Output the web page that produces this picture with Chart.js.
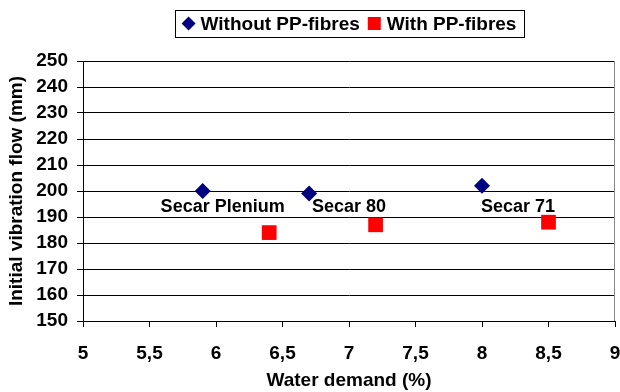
<!DOCTYPE html>
<html>
<head>
<meta charset="utf-8">
<script src="https://cdn.jsdelivr.net/npm/chart.js@4/dist/chart.umd.min.js"></script>
<style>
  html, body { margin: 0; padding: 0; background: #fff; }
  #wrap { width: 620px; height: 392px; }
</style>
</head>
<body>
<div id="wrap"><canvas id="chart"></canvas></div>
<script>
// data
const withoutX = [5.9, 6.7, 8.0];
const withoutY = [200, 199, 202];
const withX = [6.4, 7.2, 8.5];
const withY = [184, 187, 188];

// product names written next to the points (x, y in data units)
const labelTexts = ['Secar Plenium', 'Secar 80', 'Secar 71'];
const labelX = [6.05, 7.0, 8.27];
const labelY = [194, 194, 194];

const FONT = 'Arial, "Liberation Sans", sans-serif';

const toPoints = (xs, ys) => xs.map((x, i) => ({ x: x, y: ys[i] }));

// little legend with a box round it, centred over the plot
const boxLegend = {
  id: 'boxLegend',
  afterDraw(chart) {
    const ctx = chart.ctx;
    const area = chart.chartArea;
    ctx.save();
    ctx.font = 'bold 19px ' + FONT;
    const marker = 14, gapMarker = 5, gapItem = 8;
    const items = chart.data.datasets.map(ds => ({
      text: ds.label, color: ds.backgroundColor, style: ds.pointStyle,
      w: marker + gapMarker + ctx.measureText(ds.label).width
    }));
    const total = items.reduce((s, it) => s + it.w, 0) + gapItem * (items.length - 1) + 14;
    const cx = (area.left + area.right) / 2;
    const top = 10, h = 27, cy = top + h / 2;
    let x = cx - total / 2;
    ctx.strokeStyle = '#000';
    ctx.lineWidth = 1;
    ctx.strokeRect(Math.round(x) + 0.5, top + 0.5, Math.round(total), h);
    x += 7;
    ctx.textBaseline = 'middle';
    items.forEach(it => {
      ctx.fillStyle = it.color;
      ctx.beginPath();
      if (it.style === 'rectRot') {
        const r = 7;
        ctx.moveTo(x + marker / 2, cy - r);
        ctx.lineTo(x + marker / 2 + r, cy);
        ctx.lineTo(x + marker / 2, cy + r);
        ctx.lineTo(x + marker / 2 - r, cy);
        ctx.closePath();
      } else {
        ctx.rect(x, cy - 6.5, 13, 13);
      }
      ctx.fill();
      ctx.fillStyle = '#000';
      ctx.fillText(it.text, x + marker + gapMarker, cy + 1);
      x += it.w + gapItem;
    });
    ctx.restore();
  }
};

// names of the products + right border of the plot
const extras = {
  id: 'extras',
  afterDatasetsDraw(chart) {
    const ctx = chart.ctx;
    const xs = chart.scales.x, ys = chart.scales.y;
    const area = chart.chartArea;
    ctx.save();
    ctx.strokeStyle = '#888';
    ctx.lineWidth = 1;
    ctx.beginPath();
    ctx.moveTo(area.right - 0.5, area.top);
    ctx.lineTo(area.right - 0.5, area.bottom);
    ctx.stroke();
    ctx.font = 'bold 18px ' + FONT;
    ctx.fillStyle = '#000';
    ctx.textAlign = 'center';
    ctx.textBaseline = 'middle';
    labelTexts.forEach((t, i) => {
      ctx.fillText(t, xs.getPixelForValue(labelX[i]), ys.getPixelForValue(labelY[i]));
    });
    ctx.restore();
  }
};

new Chart(document.getElementById('chart'), {
  type: 'scatter',
  data: {
    datasets: [
      {
        label: 'Without PP-fibres',
        data: toPoints(withoutX, withoutY),
        pointStyle: 'rectRot',
        pointRadius: 8,
        pointHoverRadius: 8,
        backgroundColor: '#000080',
        borderColor: '#000080',
        borderWidth: 0
      },
      {
        label: 'With PP-fibres',
        data: toPoints(withX, withY),
        pointStyle: 'rect',
        pointRadius: 10.4,
        pointHoverRadius: 10.4,
        backgroundColor: '#ff0000',
        borderColor: '#ff0000',
        borderWidth: 0
      }
    ]
  },
  options: {
    responsive: true,
    maintainAspectRatio: false,
    animation: false,
    layout: { autoPadding: false, padding: { top: 61, right: 5, left: 0, bottom: 0 } },
    plugins: {
      legend: { display: false },
      tooltip: { enabled: false }
    },
    scales: {
      x: {
        type: 'linear',
        min: 5,
        max: 9,
        afterFit: s => { s.height = 71; s.paddingLeft = 0; s.paddingRight = 0; },
        ticks: {
          stepSize: 0.5,
          color: '#000',
          padding: 15,
          maxRotation: 0,
          font: { family: FONT, size: 19, weight: 'bold' },
          callback: v => String(v).replace('.', ',')
        },
        grid: { drawOnChartArea: false, color: '#000', tickLength: 6, tickColor: '#000' },
        border: { color: '#000', width: 1 },
        title: {
          display: true,
          text: 'Water demand (%)',
          color: '#000',
          font: { family: FONT, size: 19, weight: 'bold' },
          padding: { top: 0, bottom: 0 }
        }
      },
      y: {
        min: 150,
        max: 250,
        afterFit: s => { s.width = 83; },
        ticks: {
          stepSize: 10,
          color: '#000',
          padding: 9,
          font: { family: FONT, size: 19, weight: 'bold' }
        },
        grid: { color: '#000', tickLength: 6, tickColor: '#000' },
        border: { color: '#000', width: 1 },
        title: {
          display: true,
          text: 'Initial vibration flow (mm)',
          color: '#000',
          font: { family: FONT, size: 19, weight: 'bold' },
          padding: { top: 5, bottom: 0 }
        }
      }
    }
  },
  plugins: [boxLegend, extras]
});
</script>
</body>
</html>
